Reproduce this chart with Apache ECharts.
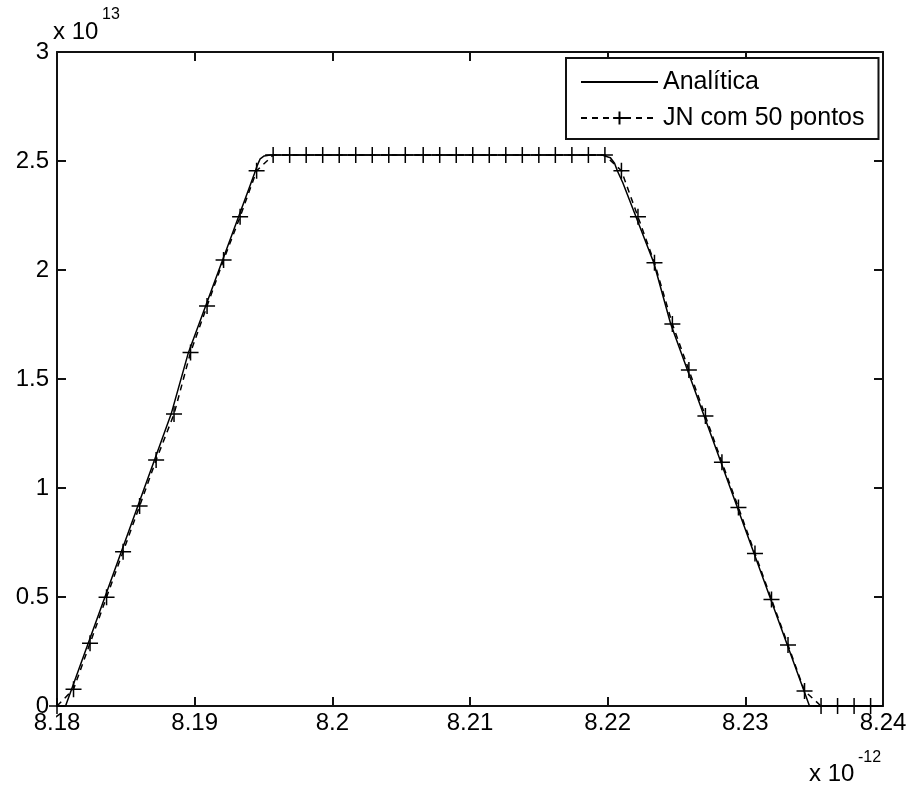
<!DOCTYPE html>
<html>
<head>
  <meta charset="utf-8">
  <title>Analítica vs JN</title>
  <style>
    html, body { margin: 0; padding: 0; background: #fff; }
    #main { width: 910px; height: 787px; }
  </style>
</head>
<body>
<div id="main"></div>
<script src="https://cdn.jsdelivr.net/npm/echarts@6/dist/echarts.min.js"></script>
<script>
var myChart = echarts.init(document.getElementById("main"));

// eixo x em unidades de 1e-12, eixo y em unidades de 1e13
var xTicks = [8.18, 8.19, 8.2, 8.21, 8.22, 8.23, 8.24];
var yTicks = [0, 0.5, 1, 1.5, 2, 2.5, 3];

// curva analitica (trapezio com cantos arredondados)
var analyticX = [8.18, 8.18062, 8.18829, 8.18955, 8.19404, 8.19433, 8.19455, 8.19476, 8.19505, 8.19549,
                 8.2196, 8.2202, 8.2205, 8.2207, 8.2211, 8.22335, 8.22458, 8.23466, 8.24];
var analyticY = [0, 0, 1.339, 1.622, 2.39, 2.44, 2.48, 2.51, 2.523, 2.527,
                 2.527, 2.515, 2.49, 2.455, 2.40, 2.033, 1.752, 0, 0];

// JN com 50 pontos
var jnX = [8.1800, 8.1812, 8.1824, 8.1836, 8.1848, 8.1860, 8.1872, 8.1885, 8.1897, 8.1909,
           8.1921, 8.1933, 8.1945, 8.1957, 8.1969, 8.1981, 8.1993, 8.2005, 8.2017, 8.2029,
           8.2041, 8.2053, 8.2066, 8.2078, 8.2090, 8.2102, 8.2114, 8.2126, 8.2138, 8.2150,
           8.2162, 8.2174, 8.2186, 8.2198, 8.2210, 8.2222, 8.2234, 8.2247, 8.2259, 8.2271,
           8.2283, 8.2295, 8.2307, 8.2319, 8.2331, 8.2343, 8.2355, 8.2367, 8.2379, 8.2391];
var jnY = [0, 0.077, 0.288, 0.499, 0.708, 0.917, 1.128, 1.339, 1.622, 1.835,
           2.046, 2.244, 2.455, 2.527, 2.527, 2.527, 2.527, 2.527, 2.527, 2.527,
           2.527, 2.527, 2.527, 2.527, 2.527, 2.527, 2.527, 2.527, 2.527, 2.527,
           2.527, 2.527, 2.527, 2.527, 2.455, 2.244, 2.033, 1.752, 1.541, 1.330,
           1.118, 0.910, 0.700, 0.489, 0.280, 0.069, 0, 0, 0, 0];

function pairs(xs, ys) {
  var out = [];
  for (var i = 0; i < xs.length; i++) {
    out.push([xs[i], ys[i]]);
  }
  return out;
}

var fontFam = "'Liberation Sans', Arial, sans-serif";
var axisCol = "#111";
var plus = "path://M0,8 L16,8 M8,0 L8,16";

function boxAxis(pos, min, max, step, show) {
  return {
    type: "value",
    position: pos,
    min: min,
    max: max,
    interval: step,
    axisLine: { show: true, onZero: false, lineStyle: { color: axisCol, width: 2 } },
    axisTick: { show: true, inside: true, length: 9, lineStyle: { color: axisCol, width: 2 } },
    axisLabel: {
      show: show,
      color: "#000",
      fontSize: 24,
      fontFamily: fontFam,
      margin: pos === "bottom" ? 5 : 8,
      formatter: function (v) { return String(+v.toFixed(2)); }
    },
    splitLine: { show: false }
  };
}

myChart.setOption({
  animation: false,
  backgroundColor: "#fff",
  grid: { left: 57, right: 27, top: 52, bottom: 81, containLabel: false },
  xAxis: [
    boxAxis("bottom", xTicks[0], xTicks[xTicks.length - 1], 0.01, true),
    boxAxis("top", xTicks[0], xTicks[xTicks.length - 1], 0.01, false)
  ],
  yAxis: [
    boxAxis("left", yTicks[0], yTicks[yTicks.length - 1], 0.5, true),
    boxAxis("right", yTicks[0], yTicks[yTicks.length - 1], 0.5, false)
  ],
  legend: {
    orient: "vertical",
    left: 566,
    top: 58,
    padding: [11, 14, 8, 14],
    itemGap: 10,
    itemWidth: 77,
    itemHeight: 16,
    backgroundColor: "#fff",
    borderColor: axisCol,
    borderWidth: 2,
    borderRadius: 0,
    textStyle: { color: "#000", fontSize: 25, fontFamily: fontFam, lineHeight: 26 },
    data: [
      { name: "Analítica", itemStyle: { color: "rgba(0,0,0,0)", borderColor: "rgba(0,0,0,0)", borderWidth: 0 } },
      { name: "JN com 50 pontos" }
    ]
  },
  graphic: [
    { type: "text", left: 53, top: 20, style: { text: "x 10", font: "24px " + fontFam, fill: "#000" } },
    { type: "text", left: 102, top: 7, style: { text: "13", font: "16px " + fontFam, fill: "#000" } },
    { type: "text", left: 809, top: 762, style: { text: "x 10", font: "24px " + fontFam, fill: "#000" } },
    { type: "text", left: 858, top: 750, style: { text: "-12", font: "16px " + fontFam, fill: "#000" } }
  ],
  series: [
    {
      name: "Analítica",
      type: "line",
      data: pairs(analyticX, analyticY),
      showSymbol: false,
      symbol: "none",
      lineStyle: { color: "#000", width: 1.5, type: "solid" },
      itemStyle: { color: "#000" }
    },
    {
      name: "JN com 50 pontos",
      type: "line",
      data: pairs(jnX, jnY),
      symbol: plus,
      symbolSize: 16,
      lineStyle: { color: "#000", width: 1.5, type: [6, 5] },
      itemStyle: { color: "#000", borderColor: "#000", borderWidth: 1.5 }
    }
  ]
});
</script>
</body>
</html>
